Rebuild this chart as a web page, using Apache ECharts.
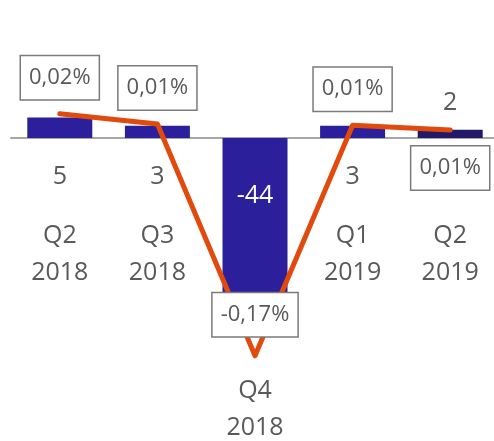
<!DOCTYPE html>
<html>
<head>
<meta charset="utf-8">
<script src="https://cdn.jsdelivr.net/npm/echarts@6/dist/echarts.min.js"></script>
<style>
  html, body { margin: 0; padding: 0; background: #fff; }
  #main { width: 494px; height: 441px; }
</style>
</head>
<body>
<div id="main"></div>
<script>
// data
const categories = ['Q2 2018', 'Q3 2018', 'Q4 2018', 'Q1 2019', 'Q2 2019'];
const barValues = [5, 3, -44, 3, 2];
const pctValues = [0.019, 0.011, -0.17, 0.010, 0.0062];   // in %

const FONT = 'Open Sans';
const GRAY = '#595959';

const myChart = echarts.init(document.getElementById('main'));

// bar value labels: below zero line for small bars, inside for the big negative one
function barLabel(v, i) {
  if (v < 0) {
    return { position: 'insideTop', distance: 45, color: '#fff' };
  }
  if (i === barValues.length - 1) {
    return { position: 'top', distance: 14, color: GRAY };
  }
  return { position: 'bottom', distance: 26, color: GRAY };
}

function lineLabel(v, i) {
  if (i === pctValues.length - 1) return { position: 'bottom', distance: 16 };
  if (v < 0) return { position: 'top', distance: 19 };
  return { position: 'top', distance: 14 };
}

const barData = barValues.map(function (v, i) {
  return {
    value: v,
    itemStyle: { color: i === barValues.length - 1 ? '#231969' : '#2b1f9c' },
    label: barLabel(v, i)
  };
});

const lineData = pctValues.map(function (v, i) {
  return { value: v, label: lineLabel(v, i) };
});

const option = {
  animation: false,
  backgroundColor: '#fff',
  grid: { left: 11, top: 15, width: 488, height: 410, containLabel: false, outerBoundsMode: 'none' },
  xAxis: {
    type: 'category',
    data: categories,
    axisLine: { onZero: true, lineStyle: { color: '#a6a6a6', width: 2 } },
    axisTick: { show: false },
    axisLabel: {
      interval: 0,
      margin: -208,   // labels hang from the grid bottom, pull them up under the zero line
      formatter: function (val, idx) {
        const parts = val.split(' ');
        const txt = '{c|' + parts[0] + '}\n{c|' + parts[1] + '}';
        return barValues[idx] < 0 ? '{gap| }\n' + txt : txt;
      },
      rich: {
        c: { fontFamily: FONT, fontSize: 25, color: GRAY, lineHeight: 37 },
        gap: { fontSize: 10, lineHeight: 155 }
      }
    }
  },
  yAxis: [
    { type: 'value', min: -70, max: 30, show: false, splitLine: { show: false } },
    { type: 'value', min: -0.224, max: 0.096, show: false, splitLine: { show: false } }
  ],
  series: [
    {
      name: 'value',
      type: 'bar',
      data: barData,
      barWidth: 65,
      label: {
        show: true,
        fontFamily: FONT,
        fontSize: 25
      }
    },
    {
      name: 'pct',
      type: 'line',
      yAxisIndex: 1,
      data: lineData,
      symbol: 'circle',
      symbolSize: 1,
      showSymbol: true,
      lineStyle: { color: '#e2490c', width: 5, cap: 'round', join: 'round' },
      itemStyle: { color: 'rgba(0,0,0,0)' },
      label: {
        show: true,
        fontFamily: FONT,
        fontSize: 22,
        color: GRAY,
        backgroundColor: '#fff',
        borderColor: '#7a7a7a',
        borderWidth: 1.5,
        padding: [8, 8, 8, 8],
        lineHeight: 27,
        formatter: function (p) {
          return p.value.toFixed(2).replace('.', ',') + '%';
        }
      },
      z: 3
    }
  ]
};

myChart.setOption(option);
</script>
</body>
</html>
